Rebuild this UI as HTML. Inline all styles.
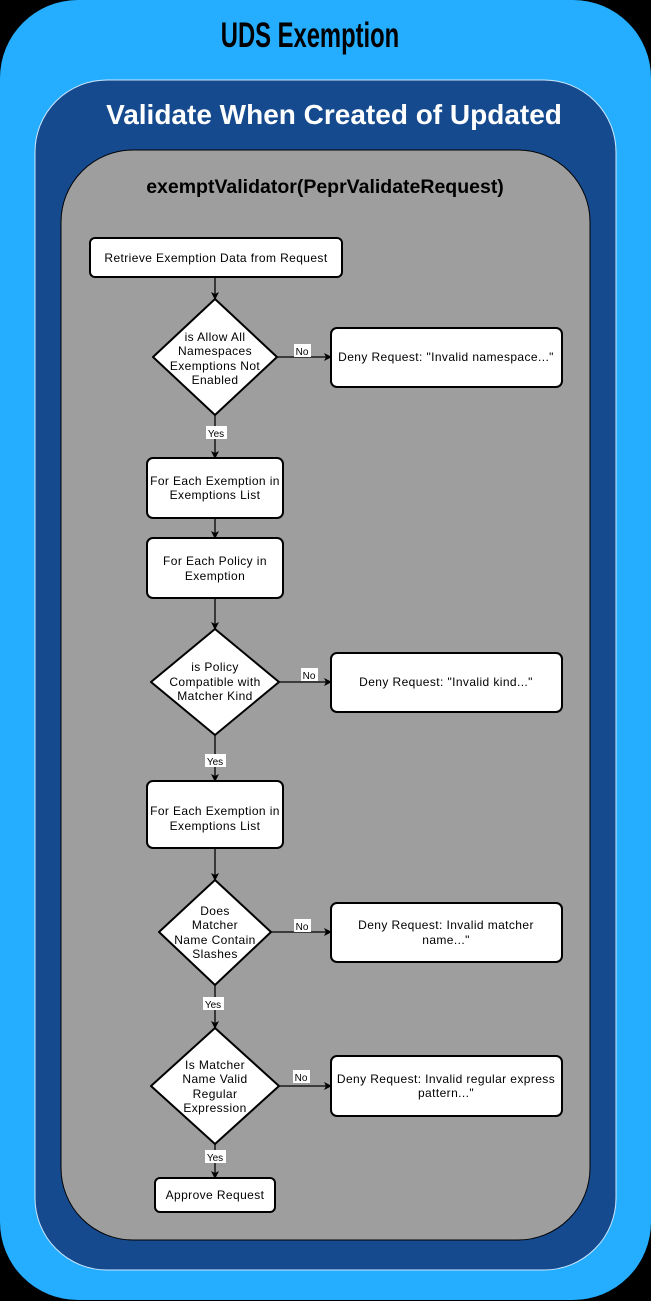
<!DOCTYPE html>
<html><head><style>
html,body{margin:0;padding:0;background:#000;width:651px;height:1301px;overflow:hidden}
svg text{font-family:"Liberation Sans",sans-serif}
</style></head><body>
<svg width="651" height="1301" viewBox="0 0 651 1301" xmlns="http://www.w3.org/2000/svg">
<defs><marker id="a" markerWidth="8" markerHeight="8" refX="7" refY="4" orient="auto" markerUnits="userSpaceOnUse"><path d="M0,0 L8,4 L0,8 L2,4z" fill="#000"/></marker></defs>
<rect x="0" y="0" width="651" height="1300" rx="78" fill="#25aeff"/>
<rect x="35" y="80" width="581" height="1190" rx="72" fill="#154a8e" stroke="#cfe8ff" stroke-width="1"/>
<rect x="61" y="150" width="529" height="1090" rx="72" fill="#9e9e9e" stroke="#000" stroke-width="1"/>
<text x="310" y="47" font-size="35" font-weight="bold" text-anchor="middle" fill="#000" transform="translate(310,0) scale(0.68,1) translate(-310,0)">UDS Exemption</text>
<text x="334" y="124" font-size="28" font-weight="bold" text-anchor="middle" fill="#fff">Validate When Created of Updated</text>
<text x="325" y="193" font-size="19.5" font-weight="bold" text-anchor="middle" fill="#000">exemptValidator(PeprValidateRequest)</text>
<g stroke="#000" stroke-width="1.3" fill="none">
<line x1="215" y1="277" x2="215" y2="299" marker-end="url(#a)"/>
<line x1="277" y1="357" x2="331" y2="357" marker-end="url(#a)"/>
<line x1="215" y1="415" x2="215" y2="458" marker-end="url(#a)"/>
<line x1="215" y1="518" x2="215" y2="538" marker-end="url(#a)"/>
<line x1="215" y1="598" x2="215" y2="629" marker-end="url(#a)"/>
<line x1="279" y1="682" x2="331" y2="682" marker-end="url(#a)"/>
<line x1="215" y1="735" x2="215" y2="781" marker-end="url(#a)"/>
<line x1="215" y1="848" x2="215" y2="880" marker-end="url(#a)"/>
<line x1="271" y1="932" x2="331" y2="932" marker-end="url(#a)"/>
<line x1="215" y1="985" x2="215" y2="1028" marker-end="url(#a)"/>
<line x1="279" y1="1086" x2="331" y2="1086" marker-end="url(#a)"/>
<line x1="215" y1="1144" x2="215" y2="1178" marker-end="url(#a)"/>
</g>
<g fill="#fff" stroke="#000" stroke-width="2">
<rect x="90" y="238" width="252" height="39" rx="5"/>
<path d="M215,299 L277,357 L215,415 L153,357Z" stroke-linejoin="round"/>
<rect x="331" y="328" width="231" height="59" rx="6"/>
<rect x="147" y="458" width="136" height="60" rx="6"/>
<rect x="147" y="538" width="136" height="60" rx="6"/>
<path d="M215,629 L279,682 L215,735 L151,682Z" stroke-linejoin="round"/>
<rect x="331" y="653" width="231" height="59" rx="6"/>
<rect x="147" y="781" width="136" height="67" rx="6"/>
<path d="M215,880 L271,932 L215,985 L159,932Z" stroke-linejoin="round"/>
<rect x="331" y="903" width="231" height="59" rx="6"/>
<path d="M215,1028 L279,1086 L215,1144 L151,1086Z" stroke-linejoin="round"/>
<rect x="331" y="1056" width="231" height="60" rx="6"/>
<rect x="155" y="1178" width="120" height="34" rx="5"/>
</g>
<g fill="#fff">
<rect x="294" y="344" width="17" height="13"/><rect x="206" y="426" width="21" height="13"/>
<rect x="301" y="668" width="17" height="13"/><rect x="205" y="754" width="21" height="13"/>
<rect x="294" y="919" width="17" height="13"/><rect x="203" y="997" width="21" height="13"/>
<rect x="293" y="1070" width="17" height="13"/><rect x="205" y="1150" width="21" height="13"/>
</g>
<g font-size="12" letter-spacing="0.4" fill="#000" text-anchor="middle">
<text x="216" y="262">Retrieve Exemption Data from Request</text>
<text x="215" y="341">is Allow All</text><text x="215" y="355">Namespaces</text><text x="215" y="370">Exemptions Not</text><text x="215" y="384">Enabled</text>
<text x="446" y="361">Deny Request: "Invalid namespace..."</text>
<text x="215" y="485">For Each Exemption in</text><text x="215" y="499">Exemptions List</text>
<text x="215" y="565">For Each Policy in</text><text x="215" y="580">Exemption</text>
<text x="215" y="671">is Policy</text><text x="215" y="686">Compatible with</text><text x="215" y="700">Matcher Kind</text>
<text x="446" y="686">Deny Request: "Invalid kind..."</text>
<text x="215" y="815">For Each Exemption in</text><text x="215" y="830">Exemptions List</text>
<text x="215" y="915">Does</text><text x="215" y="929">Matcher</text><text x="215" y="944">Name Contain</text><text x="215" y="958">Slashes</text>
<text x="446" y="929">Deny Request: Invalid matcher</text><text x="446" y="944">name..."</text>
<text x="215" y="1069">Is Matcher</text><text x="215" y="1083">Name Valid</text><text x="215" y="1098">Regular</text><text x="215" y="1112">Expression</text>
<text x="446" y="1083">Deny Request: Invalid regular express</text><text x="446" y="1097">pattern..."</text>
<text x="215" y="1199">Approve Request</text>
</g>
<g font-size="10" fill="#000" text-anchor="middle">
<text x="302" y="355">No</text><text x="216" y="437">Yes</text>
<text x="309" y="679">No</text><text x="215" y="765">Yes</text>
<text x="302" y="930">No</text><text x="213" y="1008">Yes</text>
<text x="301" y="1081">No</text><text x="215" y="1161">Yes</text>
</g>
</svg>
</body></html>
